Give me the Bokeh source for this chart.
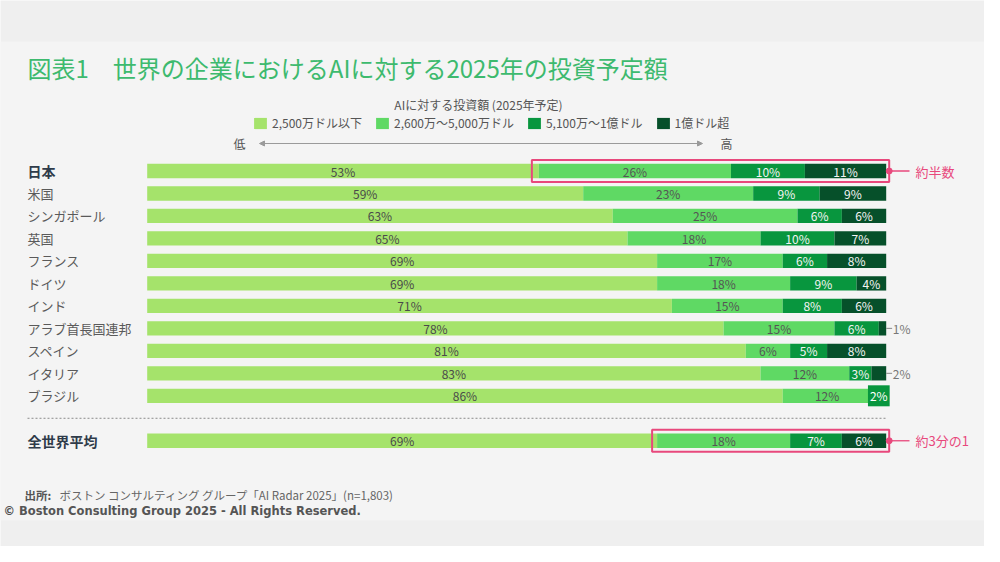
from bokeh.plotting import figure
from bokeh.models import Range1d, ColumnDataSource, Legend, LegendItem, Arrow, NormalHead
from bokeh.core.properties import value
from bokeh.embed import file_html
from bokeh.resources import INLINE

# ---------------- data ----------------
countries = ["日本", "米国", "シンガポール", "英国", "フランス", "ドイツ", "インド",
             "アラブ首長国連邦", "スペイン", "イタリア", "ブラジル", "全世界平均"]
s1 = [53, 59, 63, 65, 69, 69, 71, 78, 81, 83, 86, 69]
s2 = [26, 23, 25, 18, 17, 18, 15, 15, 6, 12, 12, 18]
s3 = [10, 9, 6, 10, 6, 9, 8, 6, 5, 3, 2, 7]
s4 = [11, 9, 6, 7, 8, 4, 6, 1, 8, 2, 0, 6]
series_names = ["2,500万ドル以下", "2,600万～5,000万ドル", "5,100万～1億ドル", "1億ドル超"]
title_text = "図表1\u3000世界の企業におけるAIに対する2025年の投資予定額"
legend_title = "AIに対する投資額 (2025年予定)"
low_text, high_text = "低", "高"
highlight_rows = ["日本", "全世界平均"]
highlight_notes = ["約半数", "約3分の1"]
source_bold = "出所:"
source_rest = "ボストン コンサルティング グループ「AI Radar 2025」(n=1,803)"
copyright_text = "© Boston Consulting Group 2025 - All Rights Reserved."

# ---------------- styles ----------------
colors = ["#a5e36b", "#5fd964", "#08963e", "#06502a"]
label_colors = ["#4a4a4a", "#555555", "#f4f4f4", "#f4f4f4"]
pink = "#e8487c"
title_green = "#3dba6e"
JP = value("Noto Sans CJK JP")

W, H = 984, 546
X0, XS = 146.7, 7.39     # px of 0 %, px per percent
Y0, YS = 170.5, 22.48    # px of first row, px per row


def dx(sx):
    return (sx - X0) / XS


def dy(sy):
    return (sy - Y0) / YS


rows = list(range(len(countries) - 1)) + [len(countries)]  # gap before the world average
bar_h = 14.3 / YS

p = figure(width=W, height=H, output_backend="svg", toolbar_location=None,
           x_range=Range1d(dx(0), dx(W)), y_range=Range1d(dy(H), dy(0)),
           min_border=0, min_border_left=0, min_border_right=0,
           min_border_top=0, min_border_bottom=0)
p.axis.visible = False
p.xgrid.visible = False
p.ygrid.visible = False
p.outline_line_color = None
p.background_fill_color = "#efefef"
p.border_fill_color = "#efefef"

# light panel
p.quad(left=[dx(0)], right=[dx(W)], top=[dy(41)], bottom=[dy(520)],
       fill_color="#f4f4f4", line_color=None)

# ---------------- bars ----------------
series = [s1, s2, s3, s4]
lefts = []
cum = [0] * len(countries)
renderers = []
for k, s in enumerate(series):
    left = cum[:]
    right = [a + b for a, b in zip(cum, s)]
    src = ColumnDataSource(dict(y=rows, left=left, right=right, v=s))
    r = p.hbar(y="y", left="left", right="right", height=bar_h, source=src,
               fill_color=colors[k], line_color=None)
    renderers.append(r)
    lefts.append(left)
    cum = right

# ---------------- segment labels ----------------
for k, s in enumerate(series):
    xs, ys, ts = [], [], []
    bx, by, bt = [], [], []
    ox, oy, ot = [], [], []
    for i, v in enumerate(s):
        if v <= 0:
            continue
        mid = lefts[k][i] + v / 2
        if k == 3 and v < 3:
            ox.append(lefts[k][i] + v)
            oy.append(rows[i])
            ot.append(f"{v}%")
        elif v < 3:
            bx.append(mid)
            by.append(rows[i])
            bt.append(f"{v}%")
        else:
            xs.append(mid)
            ys.append(rows[i])
            ts.append(f"{v}%")
    p.text(x=xs, y=ys, text=ts, text_align="center", text_baseline="middle",
           text_font=JP, text_font_size="12px", text_color=label_colors[k])
    if bx:
        p.text(x=bx, y=by, text=bt, text_align="center", text_baseline="middle",
               text_font=JP, text_font_size="12px", text_color="#ffffff",
               background_fill_color=colors[k], padding=2)
    if ox:
        p.segment(x0=ox, x1=[x + 0.8 for x in ox], y0=oy, y1=oy,
                  line_color="#888888", line_width=1)
        p.text(x=[x + 0.9 for x in ox], y=oy, text=ot, text_align="left",
               text_baseline="middle", text_font=JP, text_font_size="12px",
               text_color="#777777")

# ---------------- category labels ----------------
norm_idx = [i for i, c in enumerate(countries) if c not in highlight_rows]
bold_idx = [i for i, c in enumerate(countries) if c in highlight_rows]
p.text(x=[dx(27)] * len(norm_idx), y=[rows[i] for i in norm_idx],
       text=[countries[i] for i in norm_idx], text_align="left", text_baseline="middle",
       text_font=JP, text_font_size="13px", text_color="#5a5a5a")
p.text(x=[dx(27)] * len(bold_idx), y=[rows[i] for i in bold_idx],
       text=[countries[i] for i in bold_idx], text_align="left", text_baseline="middle",
       text_font=JP, text_font_size="14px", text_font_style="bold",
       text_color="#2f3b4a")

# dotted separator
sep_y = (rows[-2] + rows[-1]) / 2
p.segment(x0=[dx(27)], x1=[100], y0=[sep_y], y1=[sep_y],
          line_color="#8a8a8a", line_width=1, line_dash="2 2")

# ---------------- highlight boxes ----------------
pads = [7, 5]
for name, note, pad in zip(highlight_rows, highlight_notes, pads):
    i = countries.index(name)
    yy = rows[i]
    p.quad(left=[s1[i] - pad / XS], right=[100 + 3 / XS],
           top=[yy - 0.49], bottom=[yy + 0.49],
           fill_color=None, line_color=pink, line_width=2)
    p.scatter(x=[100 + 3 / XS], y=[yy], size=6, fill_color=pink, line_color=pink)
    p.segment(x0=[100 + 3 / XS], x1=[dx(909)], y0=[yy], y1=[yy],
              line_color=pink, line_width=1.3)
    p.text(x=[dx(915)], y=[yy], text=[note], text_align="left", text_baseline="middle",
           text_font=JP, text_font_size="13px", text_color=pink)

# ---------------- title ----------------
p.text(x=[dx(27)], y=[dy(67)], text=[title_text], text_align="left",
       text_baseline="middle", text_font=JP, text_font_size="24px",
       text_color=title_green)

# legend title
p.text(x=[dx(478)], y=[dy(104)], text=[legend_title], text_align="center",
       text_baseline="middle", text_font=JP, text_font_size="12px",
       text_color="#555555")

# legend
legend = Legend(items=[LegendItem(label=n, renderers=[r]) for n, r in zip(series_names, renderers)],
                orientation="horizontal", location=(252, H - 131),
                glyph_width=16, glyph_height=14, label_height=14, label_standoff=4,
                spacing=12, padding=0, margin=0, border_line_color=None,
                background_fill_alpha=0, label_text_font="Noto Sans CJK JP",
                label_text_font_size="12px", label_text_color="#555555")
p.add_layout(legend)

# low/high arrow
p.add_layout(Arrow(x_start=dx(259), x_end=dx(702), y_start=dy(143), y_end=dy(143),
                   line_color="#9a9a9a", line_width=1,
                   start=NormalHead(size=5, fill_color="#9a9a9a", line_color="#9a9a9a"),
                   end=NormalHead(size=5, fill_color="#9a9a9a", line_color="#9a9a9a")))
p.text(x=[dx(239), dx(726)], y=[dy(143), dy(143)], text=[low_text, high_text],
       text_align="center", text_baseline="middle", text_font=JP,
       text_font_size="12px", text_color="#555555")

# ---------------- footer ----------------
p.text(x=[dx(24)], y=[dy(494)], text=[source_bold], text_align="left",
       text_baseline="middle", text_font=JP, text_font_size="11.5px",
       text_font_style="bold", text_color="#555555")
p.text(x=[dx(59)], y=[dy(494)], text=[source_rest], text_align="left",
       text_baseline="middle", text_font=JP, text_font_size="11.5px",
       text_color="#666666")
p.text(x=[dx(3)], y=[dy(510)], text=[copyright_text], text_align="left",
       text_baseline="middle", text_font=value("DejaVu Sans"), text_font_size="11.5px",
       text_font_style="bold", text_color="#555555")

open("out.html", "w").write(file_html(p, INLINE))
